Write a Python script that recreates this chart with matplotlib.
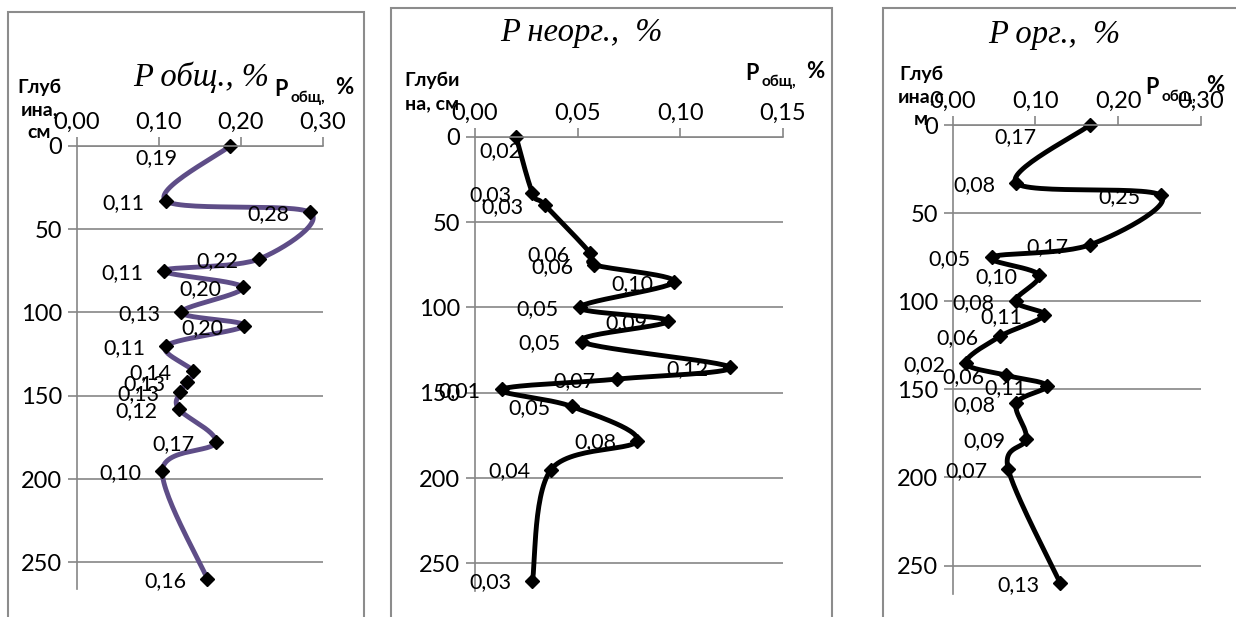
import matplotlib
matplotlib.use("Agg")
import matplotlib.pyplot as plt
from matplotlib.patches import Rectangle
from matplotlib.ticker import FuncFormatter, MultipleLocator
import numpy as np

# depth of samples, cm
depth = [0, 33, 40, 68, 75, 85, 100, 108, 120, 135, 142, 148, 158, 178, 195, 260]

# phosphorus content, %
p_total = [0.187, 0.108, 0.284, 0.222, 0.106, 0.202, 0.127, 0.204,
           0.109, 0.141, 0.134, 0.126, 0.124, 0.169, 0.104, 0.159]
p_inorg = [0.020, 0.028, 0.034, 0.056, 0.058, 0.097, 0.051, 0.094,
           0.052, 0.124, 0.069, 0.013, 0.047, 0.079, 0.037, 0.028]
p_org = [0.166, 0.077, 0.252, 0.166, 0.047, 0.104, 0.076, 0.110,
         0.057, 0.016, 0.064, 0.114, 0.077, 0.089, 0.067, 0.130]

titles = ["P общ., %", "P неорг.,  %", "P орг.,  %"]
depth_titles = ["Глуб\nина,\nсм", "Глуби\nна, см", "Глуб\nина,с\nм"]

W, H = 1236, 617
GREY = "#868686"
plt.rcParams['font.family'] = ['Lato', 'Open Sans', 'DejaVu Sans']


def px(x, y):
    """pixel coords (top-left origin) -> figure fraction"""
    return x / W, 1 - y / H


def add_ax(fig, x0, x1, y0, y1):
    return fig.add_axes([x0 / W, 1 - y1 / H, (x1 - x0) / W, (y1 - y0) / H])


def smooth(ax, xs, ys, n=30):
    """Catmull-Rom curve through points, computed in screen space (like Excel)"""
    pts = ax.transData.transform(np.column_stack([xs, ys]))
    pts = np.vstack([pts[0], pts, pts[-1]])
    out = []
    t = np.linspace(0, 1, n)[:, None]
    for i in range(1, len(pts) - 2):
        p0, p1, p2, p3 = pts[i - 1], pts[i], pts[i + 1], pts[i + 2]
        b1 = p1 + (p2 - p0) / 6
        b2 = p2 - (p3 - p1) / 6
        seg = ((1 - t) ** 3 * p1 + 3 * (1 - t) ** 2 * t * b1
               + 3 * (1 - t) * t ** 2 * b2 + t ** 3 * p2)
        out.append(seg)
    out = np.vstack(out)
    return ax.transData.inverted().transform(out)


def draw_panel(fig, box, xmax, xstep, values, color, title, title_xy,
               dtitle, dtitle_xy, unit_xy, first_off):
    ax = add_ax(fig, *box)
    ax.set_xlim(0, xmax)
    ax.set_ylim(266, 0)
    ax.xaxis.tick_top()
    ax.xaxis.set_major_locator(MultipleLocator(xstep))
    ax.yaxis.set_major_locator(MultipleLocator(50))
    ax.xaxis.set_major_formatter(FuncFormatter(lambda v, p: f"{v:.2f}".replace('.', ',')))
    ax.tick_params(axis='both', direction='out', length=6.5, width=1.2,
                   color=GREY, labelsize=17, pad=3)
    ax.tick_params(axis='y', pad=4)
    for s in ('right', 'bottom'):
        ax.spines[s].set_visible(False)
    for s in ('top', 'left'):
        ax.spines[s].set_color(GREY)
        ax.spines[s].set_linewidth(1.2)
    ax.grid(axis='y', color=GREY, lw=1.2)
    ax.set_axisbelow(True)
    ax.patch.set_alpha(0)

    curve = smooth(ax, values, depth)
    ax.plot(curve[:, 0], curve[:, 1], color=color, lw=3.5, solid_capstyle='round',
            clip_on=False)
    ax.plot(values, depth, ls='none', marker='D', ms=7.5, color='black', clip_on=False)

    for i, (v, d) in enumerate(zip(values, depth)):
        off = first_off if i == 0 else (-42, 2)
        ax.annotate(f"{v:.2f}".replace('.', ','), (v, d),
                    xytext=(off[0] * 0.72, -off[1] * 0.72), textcoords='offset points',
                    ha='center', va='center', fontsize=15.5)

    fig.text(*px(*title_xy), title, ha='center', va='center', fontsize=23.5,
             family='Liberation Serif', style='italic')
    fig.text(*px(*dtitle_xy), dtitle, ha='center', va='center', fontsize=14,
             fontweight='bold', linespacing=1.4, multialignment='center')
    ux, uy = unit_xy
    fig.text(*px(ux, uy), "P", ha='center', va='center', fontsize=15.5, fontweight='bold')
    fig.text(*px(ux + 27, uy + 9), "общ,", ha='center', va='center', fontsize=11,
             fontweight='bold')
    fig.text(*px(ux + 63, uy - 2), "%", ha='center', va='center', fontsize=16,
             fontweight='bold')
    return ax


fig = plt.figure(figsize=(W / 100, H / 100), dpi=100)

# panel frames
for x0, x1, y0 in [(8, 364, 12), (391, 832, 8), (883, 1250, 8)]:
    fx, fy = px(x0, 640)
    fig.add_artist(Rectangle((fx, fy), (x1 - x0) / W, (640 - y0) / H,
                             transform=fig.transFigure, fill=False,
                             ec='#8c8c8c', lw=1.5))

draw_panel(fig, (77, 323, 145.7, 589), 0.30, 0.10, p_total, '#5E4D87',
           titles[0], (201, 77), depth_titles[0], (39, 110), (281, 89), (-74, 12))
draw_panel(fig, (475, 783, 136.7, 590.8), 0.15, 0.05, p_inorg, 'black',
           titles[1], (581, 33), depth_titles[1], (432, 92), (752, 73), (-16, 14))
draw_panel(fig, (952.7, 1200.7, 125, 593.7), 0.30, 0.10, p_org, 'black',
           titles[2], (1054, 35), depth_titles[2], (921, 97), (1152, 88), (-74, 12))

fig.savefig("out.png", dpi=100)
